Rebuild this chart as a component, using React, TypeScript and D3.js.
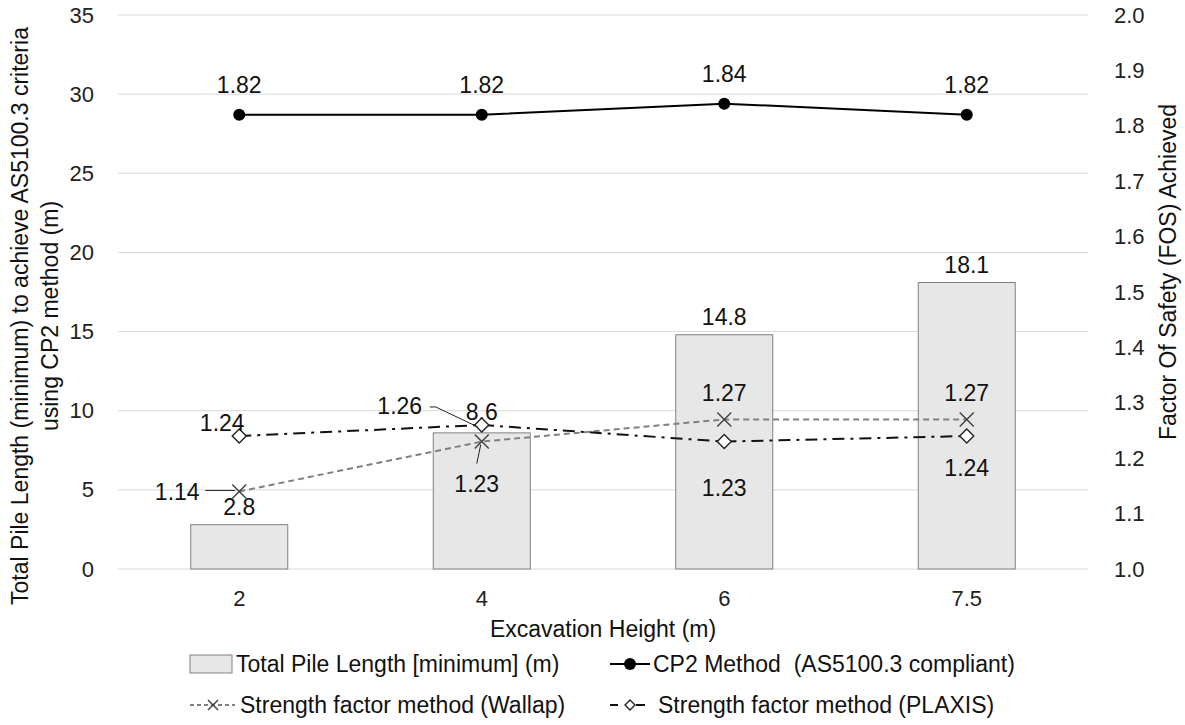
import React from "react";
import * as d3 from "d3";

const categories = ["2", "4", "6", "7.5"];
const pileLength = [2.8, 8.6, 14.8, 18.1];
const cp2Fos = [1.82, 1.82, 1.84, 1.82];
const wallapFos = [1.14, 1.23, 1.27, 1.27];
const plaxisFos = [1.24, 1.26, 1.23, 1.24];
const leftTicks = [0, 5, 10, 15, 20, 25, 30, 35];
const rightTicks = [1.0, 1.1, 1.2, 1.3, 1.4, 1.5, 1.6, 1.7, 1.8, 1.9, 2.0];

const W = 1185;
const H = 725;
const m = { left: 118, right: 1088, top: 15, bottom: 569 };
const NUM_FONT = "'Liberation Sans', Arial, sans-serif";
const TXT_FONT = "'Liberation Sans', Arial, sans-serif";
const TXT_SIZE = 23;

// label offsets (dx, dy) relative to each point, in px
const wallapLabelOff = [[-62, 1], [-5, 42], [0, -26], [0, -26]];
const plaxisLabelOff = [[-17, -13], [-82, -19], [0, 46], [0, 32]];

function Cross({ x, y, s = 7 }: { x: number; y: number; s?: number }) {
  return (
    <g stroke="#404040" strokeWidth={1.4}>
      <line x1={x - s} y1={y - s} x2={x + s} y2={y + s} />
      <line x1={x - s} y1={y + s} x2={x + s} y2={y - s} />
    </g>
  );
}

function Diamond({ x, y, s = 7 }: { x: number; y: number; s?: number }) {
  return (
    <path
      d={`M${x},${y - s}L${x + s},${y}L${x},${y + s}L${x - s},${y}Z`}
      fill="#fff"
      stroke="#222"
      strokeWidth={1.4}
    />
  );
}

export default function App() {
  const x = d3.scaleBand<string>().domain(categories).range([m.left, m.right]).padding(0);
  const cx = (c: string) => (x(c) as number) + x.bandwidth() / 2;
  const barW = x.bandwidth() * 0.4;
  const yL = d3.scaleLinear().domain([0, 35]).range([m.bottom, m.top]);
  const yR = d3.scaleLinear().domain([1, 2]).range([m.bottom, m.top]);

  const lineR = d3
    .line<number>()
    .x((_, i) => cx(categories[i]))
    .y((d) => yR(d));

  const lbl = { fontFamily: NUM_FONT, fontSize: 23, fill: "#111", textAnchor: "middle" as const, dominantBaseline: "central" as const };

  return (
    <svg width={W} height={H} style={{ position: "absolute", left: 0, top: 0, background: "#fff" }}>
      {/* gridlines */}
      {leftTicks.map((t) => (
        <line key={t} x1={m.left} x2={m.right} y1={yL(t)} y2={yL(t)} stroke="#d9d9d9" strokeWidth={1} />
      ))}

      {/* left ticks */}
      {leftTicks.map((t) => (
        <text key={"l" + t} x={94} y={yL(t)} textAnchor="end" dominantBaseline="central" fontFamily={NUM_FONT} fontSize={22} fill="#222">
          {t}
        </text>
      ))}
      {/* right ticks */}
      {rightTicks.map((t) => (
        <text key={"r" + t} x={1114} y={yR(t)} dominantBaseline="central" fontFamily={NUM_FONT} fontSize={22} fill="#222">
          {t.toFixed(1)}
        </text>
      ))}

      {/* bars */}
      {pileLength.map((v, i) => (
        <g key={"b" + i}>
          <rect x={cx(categories[i]) - barW / 2} y={yL(v)} width={barW} height={yL(0) - yL(v)} fill="#e7e7e7" stroke="#808080" strokeWidth={1} />
          {i !== 1 && (
            <text {...lbl} x={cx(categories[i])} y={yL(v) - 18}>
              {v}
            </text>
          )}
        </g>
      ))}
      <text {...lbl} x={cx(categories[1])} y={yL(pileLength[1]) - 21}>
        {pileLength[1]}
      </text>

      {/* Wallap line */}
      <path d={lineR(wallapFos) || ""} fill="none" stroke="#808080" strokeWidth={2} strokeDasharray="6 4" />
      {/* PLAXIS line */}
      <path d={lineR(plaxisFos) || ""} fill="none" stroke="#111" strokeWidth={2} strokeDasharray="12 6 3 6" />
      {/* CP2 line */}
      <path d={lineR(cp2Fos) || ""} fill="none" stroke="#000" strokeWidth={2} />

      {wallapFos.map((v, i) => (
        <Cross key={"w" + i} x={cx(categories[i])} y={yR(v)} />
      ))}
      {plaxisFos.map((v, i) => (
        <Diamond key={"p" + i} x={cx(categories[i])} y={yR(v)} />
      ))}
      {cp2Fos.map((v, i) => (
        <g key={"c" + i}>
          <circle cx={cx(categories[i])} cy={yR(v)} r={6} fill="#000" />
          <text {...lbl} x={cx(categories[i])} y={yR(v) - 30}>
            {v.toFixed(2)}
          </text>
        </g>
      ))}

      {/* leader lines */}
      <line x1={cx(categories[0]) - 34} y1={yR(wallapFos[0]) - 1} x2={cx(categories[0]) - 4} y2={yR(wallapFos[0]) - 1} stroke="#222" strokeWidth={1} />
      <line x1={cx(categories[1]) - 5} y1={yR(wallapFos[1]) + 22} x2={cx(categories[1]) - 1} y2={yR(wallapFos[1]) + 3} stroke="#222" strokeWidth={1} />
      <polyline
        points={`${cx(categories[1]) - 52},${yR(plaxisFos[1]) - 18} ${cx(categories[1]) - 46},${yR(plaxisFos[1]) - 18} ${cx(categories[1]) - 4},${yR(plaxisFos[1]) + 2}`}
        fill="none"
        stroke="#222"
        strokeWidth={1}
      />

      {wallapFos.map((v, i) => (
        <text key={"wl" + i} {...lbl} x={cx(categories[i]) + wallapLabelOff[i][0]} y={yR(v) + wallapLabelOff[i][1]}>
          {v.toFixed(2)}
        </text>
      ))}
      {plaxisFos.map((v, i) => (
        <text key={"pl" + i} {...lbl} x={cx(categories[i]) + plaxisLabelOff[i][0]} y={yR(v) + plaxisLabelOff[i][1]}>
          {v.toFixed(2)}
        </text>
      ))}

      {/* x category labels */}
      {categories.map((c) => (
        <text key={"x" + c} x={cx(c)} y={598} textAnchor="middle" dominantBaseline="central" fontFamily={NUM_FONT} fontSize={22} fill="#222">
          {c}
        </text>
      ))}

      {/* axis titles */}
      <text x={603} y={629} textAnchor="middle" dominantBaseline="central" fontFamily={TXT_FONT} fontSize={TXT_SIZE} fill="#111">
        Excavation Height (m)
      </text>
      <g transform="translate(20,316) rotate(-90)">
        <text x={0} y={0} textAnchor="middle" dominantBaseline="central" fontFamily={TXT_FONT} fontSize={TXT_SIZE} fill="#111">
          Total Pile Length (minimum) to achieve AS5100.3 criteria
        </text>
        <text x={0} y={30} textAnchor="middle" dominantBaseline="central" fontFamily={TXT_FONT} fontSize={TXT_SIZE} fill="#111">
          using CP2 method (m)
        </text>
      </g>
      <text transform="translate(1168,272) rotate(-90)" textAnchor="middle" dominantBaseline="central" fontFamily={TXT_FONT} fontSize={TXT_SIZE} fill="#111">
        Factor Of Safety (FOS) Achieved
      </text>

      {/* legend */}
      <g fontFamily={TXT_FONT} fontSize={TXT_SIZE} fill="#111">
        <rect x={190} y={655} width={42} height={18} fill="#e7e7e7" stroke="#808080" strokeWidth={1} />
        <text x={236} y={664} dominantBaseline="central">Total Pile Length [minimum] (m)</text>

        <line x1={610} x2={650} y1={664} y2={664} stroke="#000" strokeWidth={2} />
        <circle cx={630} cy={664} r={6} fill="#000" />
        <text x={653} y={664} dominantBaseline="central" xmlSpace="preserve">{"CP2 Method\u00a0 (AS5100.3 compliant)"}</text>

        <line x1={190} x2={235} y1={705} y2={705} stroke="#808080" strokeWidth={2} strokeDasharray="4 3" />
        <Cross x={213} y={705} s={5} />
        <text x={240} y={705} dominantBaseline="central">Strength factor method (Wallap)</text>

        <line x1={610} x2={618} y1={705} y2={705} stroke="#111" strokeWidth={2} />
        <line x1={636} x2={645} y1={705} y2={705} stroke="#111" strokeWidth={2} />
        <Diamond x={630} y={705} s={5} />
        <text x={658} y={705} dominantBaseline="central">Strength factor method (PLAXIS)</text>
      </g>
    </svg>
  );
}
